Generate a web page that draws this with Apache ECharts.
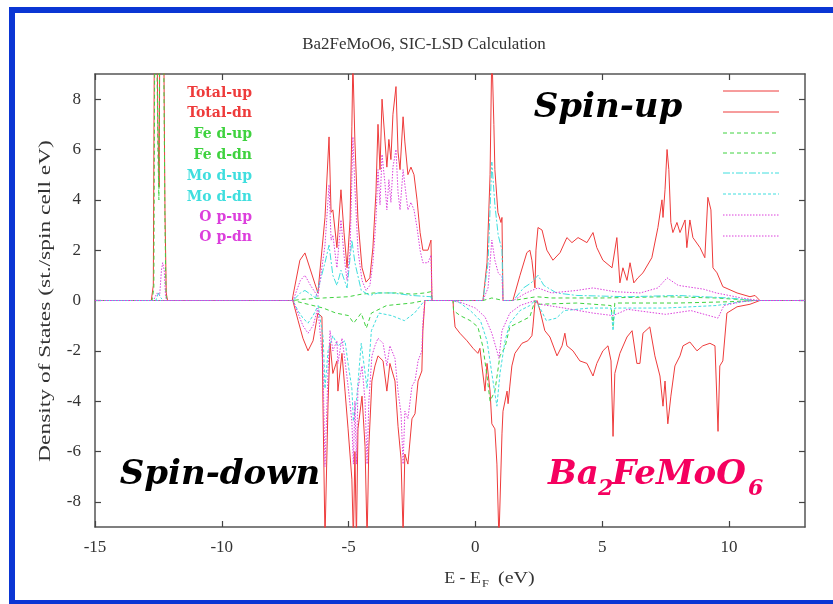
<!DOCTYPE html>
<html><head><meta charset="utf-8">
<script src="https://cdn.jsdelivr.net/npm/echarts@6/dist/echarts.min.js"></script>
<style>html,body{margin:0;padding:0;background:#fff}#c{width:833px;height:604px}</style>
</head><body><div id="c"></div>
<script>
// ---- data (energy in eV relative to E_F, DOS in st./spin cell eV) ----
const xTicks = [-15, -10, -5, 0, 5, 10];
const yTicks = [-8, -6, -4, -2, 0, 2, 4, 6, 8];
const seriesNames = ['Total-up', 'Total-dn', 'Fe d-up', 'Fe d-dn', 'Mo d-up', 'Mo d-dn', 'O p-up', 'O p-dn'];

const totalUpE = [-15, -12.78, -12.7, -12.64, -12.58, -12.52, -12.47, -12.43, -12.37, -12.3, -12.24, -12.19, -12.14,
  -7.22, -7.19, -6.92, -6.72, -6.21, -5.93, -5.77, -5.69, -5.62, -5.46, -5.30, -5.18, -5.06, -4.94, -4.87, -4.83, -4.75, -4.63, -4.47, -4.31, -4.16, -4.04, -3.92, -3.84, -3.76, -3.68, -3.56, -3.49, -3.41, -3.33, -3.25, -3.13, -3.05, -2.97, -2.85, -2.78, -2.66, -2.54, -2.42, -2.30, -2.18, -2.07, -1.87, -1.75, -1.71,
  0.30, 0.46, 0.58, 0.65, 0.73, 0.77, 0.89, 1.01, 1.05, 1.09,
  1.48, 1.76, 2.03, 2.15, 2.23, 2.35, 2.39, 2.47, 2.63, 2.82, 3.06, 3.34, 3.61, 3.81, 4.05, 4.40, 4.64, 4.79, 5.03, 5.39, 5.58, 5.70, 5.82, 5.98, 6.10, 6.25, 6.41, 6.61, 6.96, 7.20, 7.36, 7.40, 7.48, 7.56, 7.63, 7.71, 7.79, 7.95, 8.07, 8.27, 8.34, 8.46, 8.58, 8.86, 9.05, 9.17, 9.29, 9.37, 9.53, 9.76, 10.32, 10.83, 11.03, 11.22, 13];
const totalUpV = [0, 0, 0.6, 15, 13, 7, 4.5, 14, 15, 12, 3.5, 0.3, 0,
  0, 0.2, 1.6, 1.89, 0.3, 3.3, 6.5, 3.5, 3.6, 2.1, 4.4, 2.7, 1.3, 3.2, 6.9, 9.5, 6.3, 3.2, 1.3, 0.73, 0.9, 2.1, 4.3, 7.0, 5.2, 8.0, 6.3, 5.3, 6.4, 5.6, 7.4, 8.5, 5.9, 5.2, 7.3, 6.3, 5.0, 5.3, 5.0, 4.0, 2.7, 2.0, 2.0, 2.4, 0,
  0, 1.5, 5, 10, 7, 5.2, 3.5, 3.1, 3.3, 0,
  0, 1.0, 1.9, 2.0, 1.6, 0.5, 2.0, 2.9, 2.8, 2.0, 1.6, 1.9, 2.5, 2.3, 2.5, 2.3, 2.7, 2.1, 1.6, 1.3, 2.5, 0.7, 1.3, 0.8, 1.5, 0.7, 0.9, 1.1, 1.7, 2.9, 4.0, 3.3, 4.4, 6.0, 5.2, 3.1, 2.7, 3.1, 2.7, 3.2, 2.1, 3.2, 2.5, 2.1, 1.7, 4.1, 3.6, 1.3, 1.1, 0.55, 0.3, 0.15, 0.2, 0, 0];

const totalDnE = [-15, -7.2, -6.99, -6.80, -6.60, -6.40, -6.21, -6.05, -6.01, -5.93, -5.81, -5.73, -5.62, -5.46, -5.42, -5.26, -5.14, -5.02, -4.87, -4.81, -4.75, -4.69, -4.63, -4.47, -4.35, -4.27, -4.20, -4.08, -3.96, -3.84, -3.64, -3.49, -3.37, -3.17, -3.05, -2.93, -2.85, -2.78, -2.66, -2.50, -2.38, -2.26, -2.11, -2.07, -1.99,
  -0.88, -0.86, -0.80, -0.61, -0.33, -0.09, 0.10, 0.18, 0.26, 0.38, 0.46, 0.58, 0.65, 0.77, 0.85, 0.93, 1.05, 1.09, 1.25, 1.29, 1.36, 1.44, 1.56, 1.84, 2.07, 2.23, 2.27, 2.35,
  2.43, 2.55, 2.74, 2.94, 3.22, 3.42, 3.53, 3.61, 3.85, 4.12, 4.40, 4.64, 4.79, 5.03, 5.23, 5.35, 5.43, 5.50, 5.70, 5.98, 6.18, 6.37, 6.49, 6.61, 6.88, 7.08, 7.28, 7.40, 7.48, 7.59, 7.71, 7.87, 8.07, 8.19, 8.46, 8.74, 8.97, 9.25, 9.45, 9.57, 9.64, 9.76, 9.92, 10.32, 10.83, 11.22, 13];
const totalDnV = [0, 0, -0.8, -1.5, -2.0, -1.6, -0.5, -0.65, -4.1, -9.5, -4.1, -1.7, -2.9, -2.4, -3.6, -2.1, -3.6, -5.1, -7.1, -9.5, -6.0, -9.5, -5.1, -3.8, -5.8, -9.5, -5.8, -3.2, -2.6, -2.2, -2.4, -3.6, -2.5, -3.2, -5.0, -6.3, -9.3, -6.1, -6.5, -4.7, -4.5, -3.2, -2.8, -1.2, 0,
  0, -0.4, -1.05, -1.3, -1.6, -1.9, -2.1, -1.9, -2.6, -3.6, -2.5, -3.6, -4.9, -5.1, -6.5, -9.5, -5.3, -4.4, -3.6, -4.1, -3.4, -2.6, -2.1, -1.7, -1.6, -1.4, -1.05, -0.1,
  0, -0.4, -1.2, -1.45, -2.2, -1.8, -1.3, -1.8, -2.0, -2.4, -2.5, -3.0, -2.5, -2.0, -1.8, -2.4, -5.4, -2.9, -2.1, -1.45, -1.2, -2.5, -2.5, -1.3, -1.05, -2.2, -3.0, -4.2, -3.2, -4.9, -3.8, -2.6, -2.2, -1.8, -1.65, -2.0, -1.8, -1.7, -1.8, -5.2, -2.6, -2.4, -0.5, -0.25, -0.15, 0, 0];

const feUpE = [-15, -12.75, -12.68, -12.63, -12.58, -12.52, -12.48, -12.44, -12.38, -12.3, -12.24, -12.2, -12.15, -7.2, -6.8, -6.0, -5.0, -4.5, -4.0, -3.5, -3.0, -2.5, -2.0, -1.75, -1.7, 0.3, 0.65, 1.1, 1.5, 2.4, 3.0, 5.0, 7.5, 9.5, 11.0, 13];
const feUpV = [0, 0, 0.5, 14, 12, 6, 4, 13, 14, 11, 3, 0.2, 0, 0, 0.05, 0.1, 0.15, 0.25, 0.3, 0.3, 0.3, 0.25, 0.3, 0.35, 0, 0, 0.1, 0, 0, 0.15, 0.1, 0.1, 0.15, 0.1, 0, 0];

const feDnE = [-15, -7.19, -6.8, -6.0, -5.5, -5.0, -4.8, -4.5, -4.3, -4.1, -3.5, -2.5, -2.0, -0.88, -0.86, -0.6, -0.2, 0.1, 0.3, 0.46, 0.58, 0.77, 0.97, 1.17, 1.36, 1.76, 2.15, 2.35, 2.5, 4.0, 5.35, 5.43, 5.5, 8.0, 10.0, 11.0, 13];
const feDnV = [0, 0, -0.1, -0.3, -0.5, -0.6, -0.9, -0.5, -1.1, -0.5, -0.2, -0.1, 0, 0, -0.4, -0.6, -0.8, -1.05, -1.85, -3.0, -4.0, -3.6, -2.2, -1.85, -1.05, -0.85, -0.65, 0, -0.15, -0.1, -0.2, -1.0, -0.1, -0.1, -0.05, 0, 0];

const moUpE = [-15, -12.6, -12.5, -12.4, -12.3, -7.19, -6.9, -6.72, -6.3, -5.93, -5.77, -5.62, -5.46, -5.3, -5.06, -4.87, -4.75, -4.5, -4.16, -3.84, -3.3, -2.5, -1.75, -1.71, 0.3, 0.5, 0.65, 0.77, 0.9, 1.05, 1.09, 1.5, 1.9, 2.2, 2.47, 2.7, 3.2, 4.0, 6.0, 8.0, 10.0, 11.0, 13];
const moUpV = [0, 0, 0.3, 0.1, 0, 0, 0.3, 0.4, 0.1, 1.5, 2.2, 1.0, 0.6, 1.2, 0.5, 2.4, 1.5, 0.4, 0.2, 0.3, 0.3, 0.2, 0.15, 0, 0, 1.5, 5.5, 3.8, 2.6, 2.0, 0, 0, 0.5, 0.7, 1.0, 0.6, 0.3, 0.2, 0.15, 0.2, 0.1, 0, 0];

const moDnE = [-15, -7.19, -7.0, -6.8, -6.6, -6.4, -6.2, -6.0, -5.93, -5.81, -5.62, -5.42, -5.14, -5.02, -4.87, -4.81, -4.69, -4.5, -4.27, -4.1, -3.8, -3.3, -2.8, -2.4, -2.0, -0.88, -0.6, -0.2, 0.2, 0.46, 0.65, 0.85, 0.97, 1.17, 1.36, 1.76, 2.15, 2.35, 2.55, 2.8, 3.2, 3.5, 4.5, 5.35, 5.43, 5.5, 7.5, 9.5, 10.5, 11.0, 13];
const moDnV = [0, 0, -0.4, -0.7, -0.9, -0.6, -0.2, -1.5, -3.5, -2.0, -1.4, -1.8, -1.6, -2.5, -3.5, -4.8, -4.0, -1.7, -3.5, -1.2, -0.5, -0.6, -0.8, -0.5, 0, 0, -0.1, -0.4, -0.8, -1.6, -2.9, -4.2, -2.9, -1.6, -0.9, -0.4, -0.2, 0, -0.3, -0.8, -0.7, -0.4, -0.3, -0.3, -1.2, -0.3, -0.3, -0.2, -0.05, 0, 0];

const oUpE = [-15, -12.7, -12.55, -12.45, -12.38, -12.33, -12.27, -12.22, -12.18, -7.19, -6.9, -6.72, -6.5, -6.21, -5.93, -5.77, -5.69, -5.62, -5.46, -5.30, -5.18, -5.06, -4.94, -4.83, -4.75, -4.63, -4.47, -4.31, -4.16, -4.04, -3.92, -3.84, -3.76, -3.68, -3.56, -3.49, -3.41, -3.33, -3.25, -3.13, -3.05, -2.97, -2.85, -2.78, -2.66, -2.54, -2.42, -2.30, -2.18, -2.07, -1.87, -1.75, -1.71,
  0.3, 0.5, 0.65, 0.77, 0.9, 1.05, 1.09, 1.5, 2.0, 2.47, 3.0, 4.0, 4.64, 5.5, 6.5, 7.2, 7.56, 8.0, 9.0, 9.5, 10.5, 11.2, 13];
const oUpV = [0, 0, 0.3, 0.2, 1.2, 1.5, 1.2, 0.2, 0, 0, 0.8, 1.0, 0.6, 0.15, 2.2, 4.6, 2.4, 2.6, 1.3, 3.2, 1.8, 0.8, 2.0, 6.5, 4.5, 2.0, 0.8, 0.4, 0.6, 1.5, 3.2, 5.2, 3.8, 5.8, 4.6, 3.6, 4.8, 3.9, 5.3, 6.0, 4.3, 3.6, 5.2, 4.6, 3.6, 3.9, 3.6, 2.9, 2.0, 1.5, 1.5, 1.8, 0,
  0, 0.5, 2.4, 1.6, 1.1, 0.95, 0, 0, 0.3, 0.5, 0.3, 0.4, 0.5, 0.35, 0.3, 0.5, 0.9, 0.6, 0.45, 0.3, 0.1, 0, 0];

const oDnE = [-15, -7.19, -7.0, -6.8, -6.6, -6.4, -6.21, -6.01, -5.93, -5.81, -5.73, -5.62, -5.46, -5.42, -5.26, -5.14, -5.02, -4.87, -4.81, -4.75, -4.69, -4.63, -4.47, -4.35, -4.27, -4.2, -4.08, -3.96, -3.84, -3.64, -3.49, -3.37, -3.17, -3.05, -2.93, -2.85, -2.78, -2.66, -2.5, -2.38, -2.26, -2.11, -2.07, -1.99,
  -0.88, -0.5, 0, 0.38, 0.65, 0.85, 0.93, 1.05, 1.36, 1.76, 2.35, 2.55, 3.5, 4.64, 5.43, 6.0, 7.5, 8.5, 9.57, 9.8, 10.5, 11.0, 13];
const oDnV = [0, 0, -0.5, -1.0, -1.3, -1.0, -0.3, -2.5, -6.6, -2.8, -1.2, -2.0, -1.6, -2.5, -1.5, -2.4, -3.4, -4.8, -6.5, -4.0, -6.5, -3.5, -2.6, -4.0, -6.5, -4.0, -2.2, -1.8, -1.5, -1.7, -2.6, -1.8, -2.3, -3.6, -4.5, -6.5, -4.4, -4.7, -3.4, -3.2, -2.4, -2.0, -0.9, 0,
  0, -0.1, -0.3, -0.65, -1.3, -2.0, -2.3, -1.2, -0.5, -0.2, 0, -0.15, -0.3, -0.5, -0.6, -0.35, -0.55, -0.4, -0.7, -0.2, -0.05, 0, 0];

// ---- styles ----
const RED = '#ee3b3b', GREEN = '#3fd23f', CYAN = '#3fdede', MAGENTA = '#dc3fdc';
const styles = [
  {color: RED, type: 'solid'},
  {color: RED, type: 'solid'},
  {color: GREEN, type: [4, 3]},
  {color: GREEN, type: [4, 3]},
  {color: CYAN, type: [7, 2, 2, 2]},
  {color: CYAN, type: [3, 2]},
  {color: MAGENTA, type: [1.5, 1.5]},
  {color: MAGENTA, type: [1.5, 1.5]}
];
const dataE = [totalUpE, totalDnE, feUpE, feDnE, moUpE, moDnE, oUpE, oDnE];
const dataV = [totalUpV, totalDnV, feUpV, feDnV, moUpV, moDnV, oUpV, oDnV];

const series = seriesNames.map((n, i) => ({
  name: n, type: 'line', symbol: 'none', clip: true, silent: true,
  lineStyle: {color: styles[i].color, width: 1, type: styles[i].type},
  data: dataE[i].map((e, k) => [e, dataV[i][k]])
}));

const SERIF = '"Liberation Serif", "Times New Roman", serif';
const axisCommon = {
  type: 'value',
  splitLine: {show: false},
  axisLine: {show: true, onZero: false, lineStyle: {color: '#555', width: 1.5}},
};
function axis(extra) { return Object.assign({}, JSON.parse(JSON.stringify(axisCommon)), extra); }
function tick(vals) { return {show: true, inside: true, length: 6, customValues: vals, lineStyle: {color: '#444', width: 1.2}}; }

const keyTexts = [];
const keyLines = [];
const keyY = [91, 112, 133, 153, 173, 194, 215, 236];
const keyTextY = [93, 113, 134, 155, 176, 197, 217, 237];
seriesNames.forEach((n, i) => {
  keyTexts.push({type: 'text', x: 252, y: keyTextY[i], silent: true,
    style: {text: n, fill: styles[i].color, font: 'bold 14px "DejaVu Serif", serif', align: 'right', verticalAlign: 'middle'}});
  keyLines.push({type: 'line', silent: true, shape: {x1: 723, y1: keyY[i], x2: 779, y2: keyY[i]},
    style: {stroke: styles[i].color, lineWidth: 1, lineDash: styles[i].type === 'solid' ? null : styles[i].type}});
});

const BIG = 'italic bold 34px "DejaVu Serif", serif';
const SUB = 'italic bold 22px "DejaVu Serif", serif';
const PINK = '#f5005f';
const graphic = [
  {type: 'rect', silent: true, shape: {x: 12, y: 10, width: 830, height: 593}, style: {fill: 'none', stroke: '#0b36d4', lineWidth: 6}, z: 100},
  {type: 'text', x: 424, y: 45, scaleX: 1.06, silent: true, style: {text: 'Ba2FeMoO6, SIC-LSD Calculation', font: '16px ' + SERIF, fill: '#333', align: 'center', verticalAlign: 'middle'}},
  {type: 'text', x: 46, y: 301, rotation: Math.PI / 2, scaleX: 1.38, silent: true, style: {text: 'Density of States (st./spin cell eV)', font: '17px ' + SERIF, fill: '#333', align: 'center', verticalAlign: 'middle'}},
  {type: 'text', x: 481, y: 579, scaleX: 1.12, silent: true, style: {text: 'E - E', font: '16px ' + SERIF, fill: '#333', align: 'right', verticalAlign: 'middle'}},
  {type: 'text', x: 482, y: 584, scaleX: 1.12, silent: true, style: {text: 'F', font: '11px ' + SERIF, fill: '#333', align: 'left', verticalAlign: 'middle'}},
  {type: 'text', x: 498, y: 579, scaleX: 1.25, silent: true, style: {text: '(eV)', font: '16px ' + SERIF, fill: '#333', align: 'left', verticalAlign: 'middle'}},
  {type: 'text', x: 608, y: 108, silent: true, style: {text: 'Spin-up', font: BIG, fill: '#000', align: 'center', verticalAlign: 'middle'}},
  {type: 'text', x: 220, y: 475, silent: true, style: {text: 'Spin-down', font: BIG, fill: '#000', align: 'center', verticalAlign: 'middle'}},
  {type: 'text', x: 548, y: 475, silent: true, style: {text: 'Ba', font: BIG, fill: PINK, align: 'left', verticalAlign: 'middle'}},
  {type: 'text', x: 598, y: 489, silent: true, style: {text: '2', font: SUB, fill: PINK, align: 'left', verticalAlign: 'middle'}},
  {type: 'text', x: 612, y: 475, silent: true, style: {text: 'FeMoO', font: BIG, fill: PINK, align: 'left', verticalAlign: 'middle'}},
  {type: 'text', x: 748, y: 489, silent: true, style: {text: '6', font: SUB, fill: PINK, align: 'left', verticalAlign: 'middle'}}
].concat(keyTexts, keyLines);

const option = {
  animation: false,
  backgroundColor: '#fff',
  grid: {left: 95, right: 28, top: 74, bottom: 77, containLabel: false, outerBoundsMode: 'none'},
  xAxis: [
    axis({min: -15, max: 13, position: 'bottom', axisTick: tick(xTicks),
      axisLabel: {show: true, customValues: xTicks, margin: 12, color: '#333', fontSize: 17, fontFamily: SERIF}}),
    axis({min: -15, max: 13, position: 'top', axisTick: tick(xTicks), axisLabel: {show: false}})
  ],
  yAxis: [
    axis({min: -9, max: 9, position: 'left', axisTick: tick(yTicks),
      axisLabel: {show: true, customValues: yTicks, margin: 14, color: '#333', fontSize: 17, fontFamily: SERIF}}),
    axis({min: -9, max: 9, position: 'right', axisTick: tick(yTicks), axisLabel: {show: false}})
  ],
  series: series,
  graphic: graphic
};
const chart = echarts.init(document.getElementById('c'), null, {renderer: 'canvas'});
chart.setOption(option);
</script>
</body></html>
